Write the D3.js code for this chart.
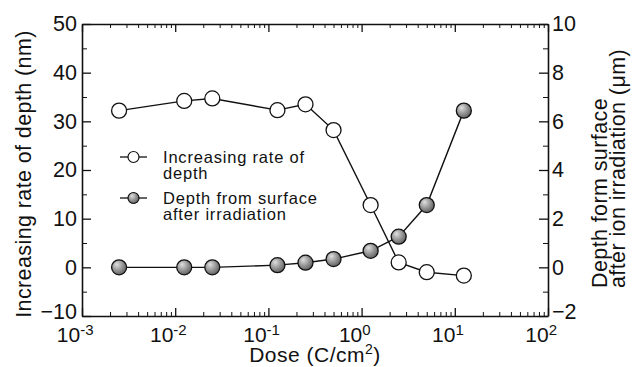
<!DOCTYPE html>
<html>
<head>
<meta charset="utf-8">
<script src="https://cdn.jsdelivr.net/npm/d3@7"></script>
<style>
  body { margin: 0; background: #fff; }
  text { font-family: "Liberation Sans", Arial, Helvetica, sans-serif; fill: #111; }
  .axis path, .axis line { stroke: #111; }
</style>
</head>
<body>
<div id="chart"></div>
<script>
// dose values (C/cm^2)
const doses = [0.0025, 0.0125, 0.025, 0.125, 0.25, 0.5, 1.25, 2.5, 5, 12.5];
// increasing rate of depth (nm), left axis
const rateValues = [32.2, 34.2, 34.7, 32.3, 33.5, 28.2, 12.8, 1.0, -1.0, -1.7];
// depth from surface after irradiation (um), right axis
const depthValues = [0, 0, 0, 0.09, 0.19, 0.34, 0.68, 1.26, 2.56, 6.44];

const xTicks = [1e-3, 1e-2, 1e-1, 1e0, 1e1, 1e2];
const xTickExp = ["-3", "-2", "-1", "0", "1", "2"];
const leftTicks = [-10, 0, 10, 20, 30, 40, 50];
const rightTicks = [-2, 0, 2, 4, 6, 8, 10];
const legendLabels = [["Increasing rate of", "depth"], ["Depth from surface", "after irradiation"]];

const W = 632, H = 367;
const margin = {top: 24, right: 84, bottom: 51, left: 82};
const width = W - margin.left - margin.right;
const height = H - margin.top - margin.bottom;

const svg = d3.select("#chart").append("svg")
  .attr("width", W)
  .attr("height", H);

const defs = svg.append("defs");
const grad = defs.append("radialGradient")
  .attr("id", "ball")
  .attr("cx", "40%").attr("cy", "38%").attr("r", "65%")
  .attr("fx", "35%").attr("fy", "30%");
grad.append("stop").attr("offset", "0%").attr("stop-color", "#e0e0e0");
grad.append("stop").attr("offset", "55%").attr("stop-color", "#979797");
grad.append("stop").attr("offset", "100%").attr("stop-color", "#5e5e5e");

const g = svg.append("g")
  .attr("transform", "translate(" + margin.left + "," + margin.top + ")");

const x = d3.scaleLog().domain([1e-3, 1e2]).range([0, width]);
const yL = d3.scaleLinear().domain([-10, 50]).range([height, 0]);
const yR = d3.scaleLinear().domain([-2, 10]).range([height, 0]);

const minorX = x.ticks().filter(d => xTicks.indexOf(d) < 0);
const minorL = d3.range(-5, 50, 10);
const minorR = d3.range(-1, 10, 2);

function styleAxis(sel) {
  sel.select(".domain").attr("stroke-width", 1.6);
  sel.selectAll(".tick line").attr("stroke-width", 1.3);
}

// bottom axis
const xAxis = d3.axisBottom(x).tickValues(xTicks).tickSizeInner(-8).tickSizeOuter(0)
  .tickPadding(11).tickFormat(d => "10");
const gx = g.append("g").attr("class", "axis")
  .attr("transform", "translate(0," + height + ")")
  .call(xAxis);
gx.selectAll(".tick text")
  .attr("font-size", 21)
  .attr("dx", "-0.35em")
  .each(function(d, i) {
    d3.select(this).append("tspan")
      .attr("font-size", 15)
      .attr("dy", "-0.45em")
      .text(xTickExp[i]);
  });
g.append("g").attr("class", "axis")
  .attr("transform", "translate(0," + height + ")")
  .call(d3.axisBottom(x).tickValues(minorX).tickSizeInner(-4).tickSizeOuter(0).tickFormat(""))
  .select(".domain").remove();
styleAxis(gx);

// top axis
const gt = g.append("g").attr("class", "axis")
  .call(d3.axisTop(x).tickValues(xTicks).tickSizeInner(-8).tickSizeOuter(0).tickFormat(""));
g.append("g").attr("class", "axis")
  .call(d3.axisTop(x).tickValues(minorX).tickSizeInner(-4).tickSizeOuter(0).tickFormat(""))
  .select(".domain").remove();
styleAxis(gt);

// left axis
const gl = g.append("g").attr("class", "axis")
  .call(d3.axisLeft(yL).tickValues(leftTicks).tickSizeInner(-9).tickSizeOuter(0).tickPadding(5));
gl.selectAll(".tick text").attr("font-size", 21.5);
gl.selectAll(".tick text").filter(d => d === -10).attr("dy", "0.12em");
g.append("g").attr("class", "axis")
  .call(d3.axisLeft(yL).tickValues(minorL).tickSizeInner(-5).tickSizeOuter(0).tickFormat(""))
  .select(".domain").remove();
styleAxis(gl);

// right axis
const gr = g.append("g").attr("class", "axis")
  .attr("transform", "translate(" + width + ",0)")
  .call(d3.axisRight(yR).tickValues(rightTicks).tickSizeInner(-9).tickSizeOuter(0).tickPadding(4));
gr.selectAll(".tick text").attr("font-size", 21.5);
gr.selectAll(".tick text").filter(d => d === -2).attr("dy", "0.12em");
g.append("g").attr("class", "axis")
  .attr("transform", "translate(" + width + ",0)")
  .call(d3.axisRight(yR).tickValues(minorR).tickSizeInner(-5).tickSizeOuter(0).tickFormat(""))
  .select(".domain").remove();
styleAxis(gr);

// axis titles
svg.append("text")
  .attr("transform", "translate(31,174) rotate(-90)")
  .attr("text-anchor", "middle")
  .attr("font-size", 21.5)
  .attr("letter-spacing", 0.4)
  .text("Increasing rate of depth (nm)");

const rt = svg.append("text")
  .attr("transform", "translate(607,288) rotate(-90)")
  .attr("font-size", 21.5)
  .attr("letter-spacing", 0.4);
rt.append("tspan").attr("x", 0).attr("y", 0).text("Depth form surface");
rt.append("tspan").attr("x", 0).attr("y", 18).text("after ion irradiation (\u03bcm)");

const xt = svg.append("text")
  .attr("x", margin.left + width / 2)
  .attr("y", 362)
  .attr("text-anchor", "middle")
  .attr("font-size", 21)
  .attr("letter-spacing", 0.5);
xt.append("tspan").text("Dose (C/cm");
xt.append("tspan").attr("font-size", 14).attr("dy", "-0.6em").text("2");
xt.append("tspan").attr("dy", "0.4em").text(")");

// series
const rateData = doses.map((d, i) => ({x: d, y: rateValues[i]}));
const depthData = doses.map((d, i) => ({x: d, y: depthValues[i]}));

g.append("path").datum(rateData)
  .attr("fill", "none").attr("stroke", "#111").attr("stroke-width", 1.4)
  .attr("d", d3.line().x(d => x(d.x)).y(d => yL(d.y)));
g.append("path").datum(depthData)
  .attr("fill", "none").attr("stroke", "#111").attr("stroke-width", 1.4)
  .attr("d", d3.line().x(d => x(d.x)).y(d => yR(d.y)));

g.selectAll(".rate").data(rateData).enter().append("circle")
  .attr("class", "rate")
  .attr("cx", d => x(d.x)).attr("cy", d => yL(d.y)).attr("r", 7.5)
  .attr("fill", "#fff").attr("stroke", "#111").attr("stroke-width", 1.3);
g.selectAll(".depth").data(depthData).enter().append("circle")
  .attr("class", "depth")
  .attr("cx", d => x(d.x)).attr("cy", d => yR(d.y)).attr("r", 7.5)
  .attr("fill", "url(#ball)").attr("stroke", "#111").attr("stroke-width", 1.3);

// legend
const legend = svg.append("g");
const legendY = [157, 198];
legendLabels.forEach((lines, i) => {
  const ly = legendY[i];
  legend.append("line")
    .attr("x1", 120).attr("x2", 147).attr("y1", ly).attr("y2", ly)
    .attr("stroke", "#111").attr("stroke-width", 1.3);
  legend.append("circle")
    .attr("cx", 133.5).attr("cy", ly).attr("r", 5.5)
    .attr("fill", i === 0 ? "#fff" : "url(#ball)")
    .attr("stroke", "#111").attr("stroke-width", 1.2);
  lines.forEach((s, j) => {
    legend.append("text")
      .attr("x", 163).attr("y", ly + 6 + j * 15.5)
      .attr("font-size", 16.5)
      .attr("letter-spacing", 0.8)
      .text(s);
  });
});
</script>
</body>
</html>
